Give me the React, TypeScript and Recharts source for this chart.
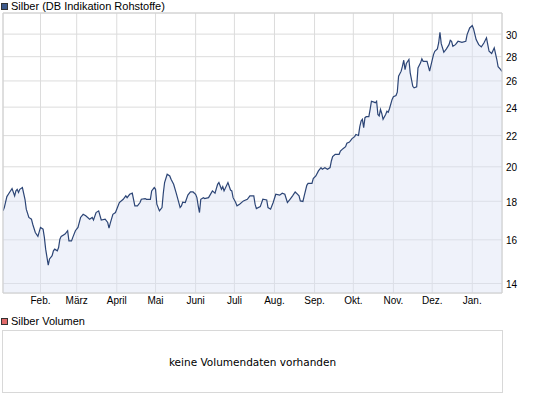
import { Area, AreaChart, CartesianGrid, ReferenceArea, XAxis, YAxis } from 'recharts';

// days since 1 Jan 2010
const days = [
  2, 3, 5, 7, 9, 11, 12, 13, 14, 15, 17, 19, 20, 22, 24, 25, 27, 29, 31, 33, 34, 35, 37, 38, 40, 41, 42, 44,
  45, 46, 47, 50, 52, 53, 55, 56, 58, 60, 62, 64, 66, 69, 71, 72, 74, 76, 78, 81, 83, 84, 85, 87, 89, 92, 95,
  97, 98, 100, 102, 104, 106, 108,
  109, 112, 113, 116, 117, 119, 120, 121, 123, 125, 126, 127, 129, 131, 132, 134, 136, 138, 139, 140, 141,
  143, 145, 147, 149, 151, 152, 153, 154, 155, 157, 158, 161, 164, 166, 168, 169, 171, 172, 173, 176, 178,
  179, 180, 182, 183, 185, 188, 191, 193, 196, 197, 198, 201, 203, 206, 207, 209, 211, 213, 216, 218, 220,
  222, 224,
  226, 228, 229, 231, 232, 234, 235, 237, 238, 241, 242, 244, 246, 248, 249, 251, 253, 255, 256, 257, 259,
  262, 263, 265, 267, 268, 270, 272, 274, 275, 277, 278, 279, 280, 281, 282, 283, 285, 286, 287, 289, 290,
  291, 292, 293, 294, 295, 296, 298, 299, 300, 301, 303, 304, 306, 307, 308, 310, 311, 312, 313, 314, 316,
  317, 319, 320, 322, 323, 325, 326, 327, 330, 331, 332, 333, 335, 336, 338, 339, 340, 341, 343, 345, 347,
  348, 349, 350, 352, 354, 357, 360, 361, 363, 365, 366, 368, 370, 372, 374, 376, 377, 378, 380, 382, 384,
  385, 387, 388,
];

const prices = [
  17.48, 17.66, 18.26, 18.49, 18.71, 18.3, 18.58, 18.67, 18.49, 18.67, 18.77, 18.11, 17.57, 17.13, 17.04,
  16.78, 16.36, 16.17, 16.62, 16.53, 16.12, 15.55, 14.81, 15.09, 15.24, 15.47, 15.55, 15.47, 15.63, 16.03,
  16.17, 16.28, 16.45, 15.95, 15.95, 16.12, 16.45, 16.62, 17.13, 17.3, 17.22, 17.04, 17.13, 17.0, 17.39,
  17.48, 17.0, 17.04, 16.87, 16.58, 16.84, 17.3, 17.39, 17.93, 18.11, 18.3, 18.2, 18.39, 18.45, 17.75, 17.75,
  17.93,
  18.11, 18.15, 18.11, 18.11, 18.58, 18.77, 18.67, 17.84, 17.48, 17.66, 18.45, 19.06, 19.55, 19.45, 19.25,
  18.96, 18.45, 17.93, 17.66, 17.75, 17.95, 17.93, 18.34, 18.52, 18.52, 18.39, 18.2, 17.75, 17.39, 18.11,
  18.2, 18.15, 18.2, 18.58, 18.45, 18.96, 19.06, 18.67, 18.82, 18.58, 19.06, 18.63, 18.58, 18.2, 17.93,
  17.75, 17.84, 18.02, 18.11, 18.3, 18.3, 17.84, 17.6, 17.71, 18.11, 18.07, 17.66, 17.57, 17.93, 18.39,
  18.34, 18.45, 18.39, 17.93, 18.11,
  18.3, 18.52, 18.45, 18.3, 18.02, 17.99, 18.3, 18.9, 19.01, 19.01, 19.29, 19.45, 19.75, 19.95, 19.85, 19.95,
  19.85, 19.95, 20.36, 20.63, 20.78, 20.78, 20.99, 21.14, 21.27, 21.49, 21.57, 21.8, 21.93, 22.08, 22.01,
  22.61, 23.0, 23.12, 22.54, 23.24, 23.31, 23.31, 23.83, 24.44, 24.37, 24.32, 24.44, 23.47, 23.36, 23.83,
  23.54, 23.12, 23.47, 23.7, 23.63, 23.9, 24.57, 24.77, 24.87, 25.12, 26.38, 26.79, 27.2, 27.7, 26.92, 27.42,
  27.76, 26.65, 25.58, 25.46, 25.53, 27.06, 27.48, 27.82, 27.61, 27.61, 27.2, 26.79, 27.25, 28.18, 28.47,
  28.68, 29.2, 30.17, 29.14, 28.38, 28.68, 29.05, 29.44, 29.35, 28.9, 29.05, 29.35, 29.26, 29.35, 29.96,
  30.57, 30.79, 30.48, 29.5, 29.05, 28.85, 29.2, 29.66, 29.05, 28.47, 28.27, 28.76, 27.76, 27.15, 26.92,
  26.76,
];

const monthStarts = [31, 59, 90, 120, 151, 181, 212, 243, 273, 304, 334, 365];
const monthLabels = ['Feb.', 'März', 'April', 'Mai', 'Juni', 'Juli', 'Aug.', 'Sep.', 'Okt.', 'Nov.', 'Dez.', 'Jan.'];
const priceTicks = [14, 16, 18, 20, 22, 24, 26, 28, 30];
const dayRange: [number, number] = [2, 388];
const priceRange: [number, number] = [13.6, 32];

const data = days.map((day, i) => ({ day, price: prices[i] }));

function LegendItem({ color, label }: { color: string; label: string }) {
  return (
    <div style={{ display: 'flex', alignItems: 'center', height: 12, fontSize: 11, lineHeight: '12px' }}>
      <span
        style={{
          display: 'inline-block',
          width: 5,
          height: 5,
          border: '1px solid #333',
          background: color,
          marginRight: 3,
        }}
      />
      <span>{label}</span>
    </div>
  );
}

export default function App() {
  return (
    <div
      style={{
        position: 'absolute',
        left: 0,
        top: 0,
        width: 545,
        height: 398,
        background: '#fff',
        color: '#000',
        fontFamily: '"Liberation Sans", Arial, sans-serif',
      }}
    >
      <div style={{ position: 'absolute', left: 0, top: 0 }}>
        <AreaChart width={545} height={312} data={data} margin={{ top: 13, right: 0, bottom: 2, left: 3 }}>
          <CartesianGrid stroke="#dcdcdc" />
          <XAxis
            dataKey="day"
            type="number"
            domain={dayRange}
            ticks={monthStarts}
            interval={0}
            allowDataOverflow
            tickFormatter={(v: number) => monthLabels[monthStarts.indexOf(v)] ?? ''}
            height={17}
            tickLine={false}
            axisLine={false}
            tickSize={0}
            tickMargin={4}
            tick={{ fill: '#000', fontSize: 10 }}
          />
          <YAxis
            orientation="right"
            scale="log"
            domain={priceRange}
            ticks={priceTicks}
            interval={0}
            allowDataOverflow
            width={43}
            tickLine={false}
            axisLine={false}
            tickSize={0}
            tickMargin={4}
            tick={{ fill: '#000', fontSize: 10, dy: 1 }}
          />
          <Area
            type="linear"
            dataKey="price"
            stroke="#2c4576"
            strokeWidth={1.2}
            fill="#dbe2f4"
            fillOpacity={0.45}
            baseValue={priceRange[0]}
            dot={false}
            activeDot={false}
            isAnimationActive={false}
          />
          <ReferenceArea
            x1={dayRange[0]}
            x2={dayRange[1]}
            y1={priceRange[0]}
            y2={priceRange[1]}
            fill="none"
            stroke="#d0d0d0"
            ifOverflow="visible"
          />
        </AreaChart>
      </div>
      <div style={{ position: 'absolute', left: 1, top: 0 }}>
        <LegendItem color="#3d5a8c" label="Silber (DB Indikation Rohstoffe)" />
      </div>
      <div style={{ position: 'absolute', left: 1, top: 315 }}>
        <LegendItem color="#e06a6a" label="Silber Volumen" />
      </div>
      <div
        style={{
          position: 'absolute',
          left: 2,
          top: 330,
          width: 501,
          height: 63,
          boxSizing: 'border-box',
          border: '1px solid #d8d8d8',
          display: 'flex',
          alignItems: 'center',
          justifyContent: 'center',
          fontFamily: '"DejaVu Sans", Verdana, sans-serif',
          fontSize: 10.5,
        }}
      >
        keine Volumendaten vorhanden
      </div>
    </div>
  );
}
